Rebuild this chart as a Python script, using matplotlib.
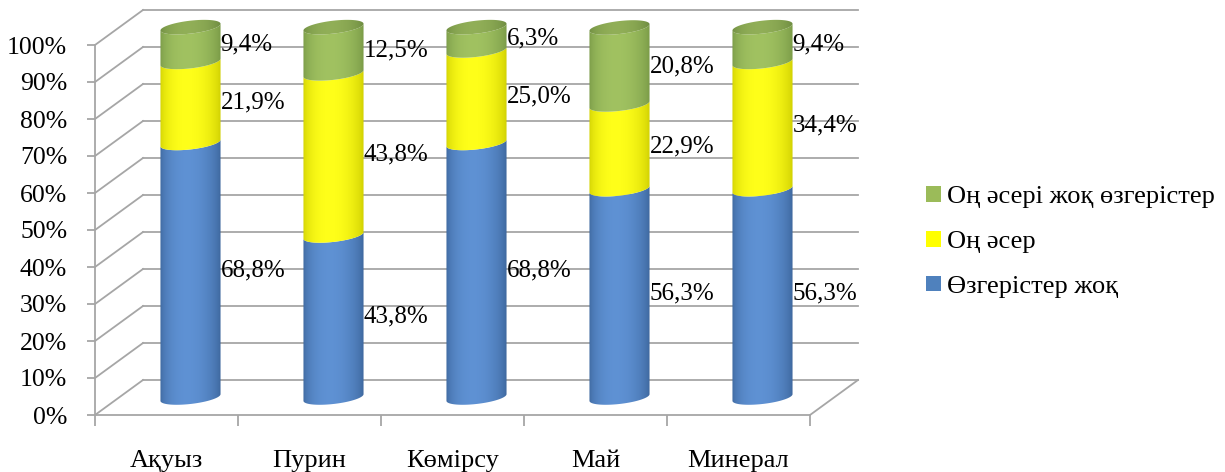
import numpy as np
import matplotlib
matplotlib.use("Agg")
import matplotlib.pyplot as plt
from matplotlib.patches import Polygon, Patch
from matplotlib.transforms import offset_copy

# ---- data ----
categories = ["Ақуыз", "Пурин", "Көмірсу", "Май", "Минерал"]
no_change = [68.8, 43.8, 68.8, 56.3, 56.3]        # Өзгерістер жоқ
positive = [21.9, 43.8, 25.0, 22.9, 34.4]          # Оң әсер
not_positive = [9.4, 12.5, 6.3, 20.8, 9.4]         # Оң әсері жоқ өзгерістер
series_names = ["Өзгерістер жоқ", "Оң әсер", "Оң әсері жоқ өзгерістер"]
series_values = [no_change, positive, not_positive]
yticks = list(range(0, 101, 10))

# ---- style ----
FONT = "Liberation Serif"
plt.rcParams["font.family"] = [FONT, "DejaVu Serif"]
W, H, DPI = 1225, 472, 100
GRID = "#A6A6A6"
colors_flat = ["#4F81BD", "#FFFF00", "#9BBB59"]
dark = [(0.23, 0.39, 0.60), (0.80, 0.80, 0.0), (0.46, 0.59, 0.27)]
light = [(0.37, 0.57, 0.83), (1.0, 1.0, 0.10), (0.63, 0.76, 0.38)]

fig = plt.figure(figsize=(W / DPI, H / DPI), dpi=DPI)
left_px, right_px, bot_px, top_px = 95, 810, 415, 45
ax = fig.add_axes([left_px / W, 1 - bot_px / H, (right_px - left_px) / W, (bot_px - top_px) / H])
n = len(categories)
ax.set_xlim(0, n)
ax.set_ylim(0, 100)
ax.patch.set_visible(False)

DX, DY = 48, 35  # depth offset in pixels
back = offset_copy(ax.transData, fig=fig, x=DX, y=DY, units="dots")
mid = offset_copy(ax.transData, fig=fig, x=DX / 2, y=DY / 2, units="dots")

# walls / gridlines
for t in yticks:
    ax.plot([0, n], [t, t], color=GRID, lw=1.3, transform=back, zorder=1, clip_on=False)
    p0 = ax.transData.transform((0, t))
    ax.plot([p0[0], p0[0] + DX], [p0[1], p0[1] + DY], color=GRID, lw=1.3,
            transform=None, zorder=1, clip_on=False)
# floor right edge
p0 = ax.transData.transform((n, 0))
ax.plot([p0[0], p0[0] + DX], [p0[1], p0[1] + DY], color=GRID, lw=1.3,
        transform=None, zorder=1, clip_on=False)

for s in ["top", "right"]:
    ax.spines[s].set_visible(False)
for s in ["left", "bottom"]:
    ax.spines[s].set_color(GRID)
    ax.spines[s].set_linewidth(1.3)

ax.set_yticks(yticks)
ax.set_yticklabels([f"{t}%" for t in yticks], fontsize=18.5)
ax.tick_params(axis="y", length=6, width=1.3, color=GRID, pad=14)
ax.set_xticks(np.arange(n + 1), minor=True)
ax.set_xticks(np.arange(n) + 0.5)
ax.set_xticklabels(categories, fontsize=19)
ax.tick_params(axis="x", which="major", length=0, pad=25)
ax.tick_params(axis="x", which="minor", length=8, width=1.3, color=GRID)

# ---- cylinders ----
A = 0.21      # half width (category units)
B = 1.75      # ellipse half height (%)
K = 4.3       # tilt (% per category unit)
tt = np.linspace(np.pi, 2 * np.pi, 60)


def lower_arc(xc, y):
    return xc + A * np.cos(tt), y + B * np.sin(tt) + K * A * np.cos(tt)


def gradient(ci, factor=1.0):
    u = np.linspace(0, 1, 200)
    s = np.clip(np.sin(np.pi * np.clip(u, 0, 1) ** 0.85), 0, 1) ** 0.6
    d = np.array(dark[ci]); l = np.array(light[ci])
    rgb = d[None, :] + (l - d)[None, :] * s[:, None]
    return np.clip(rgb * factor, 0, 1)[None, :, :]


def draw_patch(verts, ci, xc, y0, y1, z, factor=1.0):
    poly = Polygon(verts, closed=True, transform=mid, facecolor="none", edgecolor="none",
                   zorder=z, clip_on=False)
    ax.add_patch(poly)
    im = ax.imshow(gradient(ci, factor), extent=(xc - A, xc + A, y0 - 5, y1 + 5),
                   transform=mid, aspect="auto", zorder=z, interpolation="bilinear")
    im.set_clip_path(poly)
    im.set_clip_box(fig.bbox)


for i in range(n):
    xc = i + 0.5
    base = 0.0
    for ci, vals in enumerate(series_values):
        v = vals[i]
        y0, y1 = base, base + v
        bx, by = lower_arc(xc, y0)
        tx, ty = lower_arc(xc, y1)
        verts = np.column_stack([np.concatenate([bx, tx[::-1]]), np.concatenate([by, ty[::-1]])])
        draw_patch(verts, ci, xc, y0, y1, 3)
        if ci == len(series_values) - 1:
            t2 = np.linspace(0, 2 * np.pi, 120)
            ex = xc + A * np.cos(t2)
            ey = y1 + B * np.sin(t2) + K * A * np.cos(t2)
            draw_patch(np.column_stack([ex, ey]), ci, xc, y1 - 3, y1 + 3, 4, factor=0.9)
        ax.text(xc + A, (y0 + y1) / 2, f"{v:.1f}%".replace(".", ","), transform=mid,
                ha="left", va="center", fontsize=18, zorder=6)
        base = y1

ax.set_xlim(0, n)
ax.set_ylim(0, 100)

handles = [Patch(facecolor=colors_flat[k], edgecolor="none", label=series_names[k]) for k in range(3)][::-1]
fig.legend(handles=handles, loc="center left", bbox_to_anchor=(913 / W, 1 - 242 / H),
           frameon=False, fontsize=19, handlelength=0.55, handleheight=0.55,
           handletextpad=0.25, labelspacing=0.85, borderpad=0)

fig.savefig("out.png", dpi=DPI)
